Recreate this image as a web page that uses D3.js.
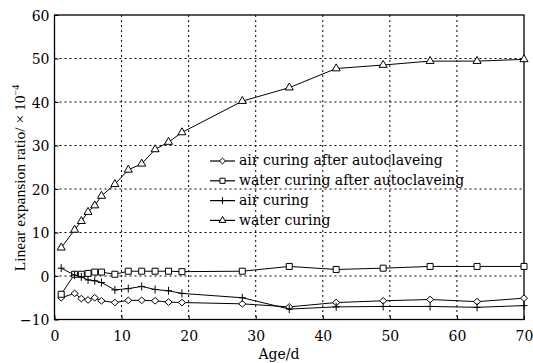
<!DOCTYPE html>
<html><head><meta charset="utf-8">
<script src="https://cdn.jsdelivr.net/npm/d3@7"></script>
<style>body{margin:0;background:#fff}svg{display:block}text{font-family:"DejaVu Serif",serif;fill:#000}</style>
</head><body><svg id="c" width="533" height="363"></svg>
<script>
const days = [1,3,4,5,6,7,9,11,13,15,17,19,28,35,42,49,56,63,70];
const airAfterAuto = [-5.0,-4.0,-5.2,-5.5,-5.0,-5.7,-6.1,-5.6,-5.6,-5.7,-6.0,-6.1,-6.4,-7.1,-6.1,-5.7,-5.4,-5.9,-5.1];
const waterAfterAuto = [-4.2,0.4,0.4,0.6,0.9,0.9,0.4,1.1,1.1,1.1,1.1,1.0,1.1,2.2,1.5,1.8,2.2,2.2,2.2];
const airCuring = [1.8,0.2,-0.2,-0.9,-1.1,-1.5,-3.2,-2.9,-2.4,-3.1,-3.4,-4.0,-5.0,-7.6,-7.1,-7.0,-7.0,-7.2,-6.8];
const waterCuring = [6.5,10.6,12.6,14.7,16.2,18.4,21.1,24.4,25.8,29.1,30.8,33.0,40.2,43.3,47.7,48.5,49.4,49.4,49.8];
const seriesNames = ["air curing after autoclaveing","water curing after autoclaveing","air curing","water curing"];
const markers = ["diamond","square","plus","triangle"];
const xTicks = [0,10,20,30,40,50,60,70];
const yTicks = [-10,0,10,20,30,40,50,60];

const svg = d3.select("#c");
const x = d3.scaleLinear().domain([0,70]).range([54.5,524]);
const y = d3.scaleLinear().domain([-10,60]).range([319.5,15]);

// grid
const g = svg.append("g");
g.selectAll(".vg").data(xTicks.slice(1,-1)).enter().append("line")
  .attr("x1",d=>x(d)).attr("x2",d=>x(d)).attr("y1",y(60)).attr("y2",y(-10))
  .attr("stroke","#000").attr("stroke-width",1).attr("stroke-dasharray","2,3");
g.selectAll(".hg").data(yTicks.slice(1,-1)).enter().append("line")
  .attr("x1",x(0)).attr("x2",x(70)).attr("y1",d=>y(d)).attr("y2",d=>y(d))
  .attr("stroke","#000").attr("stroke-width",1).attr("stroke-dasharray","2,3");

// axes
const xAxis = svg.append("g").attr("transform",`translate(0,${y(-10)})`)
  .call(d3.axisBottom(x).tickValues(xTicks).tickSizeInner(-4).tickSizeOuter(0).tickPadding(8));
const yAxis = svg.append("g").attr("transform",`translate(${x(0)},0)`)
  .call(d3.axisLeft(y).tickValues(yTicks).tickSizeInner(-4).tickSizeOuter(0).tickPadding(5));
[xAxis,yAxis].forEach(a=>{a.select(".domain").remove();a.selectAll("text").attr("font-family","DejaVu Serif").attr("font-size",14).attr("fill","#000");a.selectAll("line").attr("stroke","#000");});
xAxis.selectAll("text").attr("dy","0.95em");
yAxis.selectAll("text").attr("dy","0.36em");
svg.append("rect").attr("x",x(0)).attr("y",y(60)).attr("width",x(70)-x(0)).attr("height",y(-10)-y(60))
  .attr("fill","none").attr("stroke","#000").attr("stroke-width",1.3);

const symbolFor = (m, s=1) => {
  if (m==="diamond") return `M${-3.6*s},0L0,${-3.3*s}L${3.6*s},0L0,${3.3*s}Z`;
  if (m==="square") return d3.symbol().type(d3.symbolSquare).size(36*s*s)();
  if (m==="triangle") return d3.symbol().type(d3.symbolTriangle).size(28*s*s)();
  return `M${-3.5*s},0H${3.5*s}M0,${-4*s}V${4*s}`;
};

const allSeries = [airAfterAuto, waterAfterAuto, airCuring, waterCuring];
const line = d3.line().x((d,i)=>x(days[i])).y(d=>y(d));
allSeries.forEach((vals,k)=>{
  svg.append("path").datum(vals).attr("d",line).attr("fill","none").attr("stroke","#000").attr("stroke-width",1);
  svg.selectAll(null).data(vals).enter().append("path")
    .attr("transform",(d,i)=>`translate(${x(days[i])},${y(d)})`)
    .attr("d",symbolFor(markers[k])).attr("fill","#fff").attr("fill-opacity",markers[k]==="plus"?0:1)
    .attr("stroke","#000").attr("stroke-width",1);
});

// legend
const leg = svg.append("g");
seriesNames.forEach((n,i)=>{
  const yy = 161 + i*19.8;
  leg.append("line").attr("x1",210).attr("x2",235).attr("y1",yy).attr("y2",yy).attr("stroke","#000").attr("stroke-width",1.2);
  leg.append("path").attr("transform",`translate(222.5,${yy})`).attr("d",symbolFor(markers[i],0.85))
    .attr("fill","#fff").attr("fill-opacity",markers[i]==="plus"?0:1).attr("stroke","#000");
  leg.append("text").attr("x",239).attr("y",yy).attr("dy","0.32em").attr("font-size",14).text(n);
});

// labels
svg.append("text").attr("x",279).attr("y",359).attr("text-anchor","middle").attr("font-size",14).text("Age/d");
const yl = svg.append("text").attr("transform","translate(25,178) rotate(-90)").attr("text-anchor","middle")
  .attr("font-family","Liberation Serif").attr("font-size",15.5);
yl.append("tspan").attr("font-family","Liberation Serif").text("Linear expansion ratio/ × 10");
yl.append("tspan").attr("font-family","Liberation Serif").attr("dy",-6).attr("font-size",10).text("−4");
</script></body></html>
